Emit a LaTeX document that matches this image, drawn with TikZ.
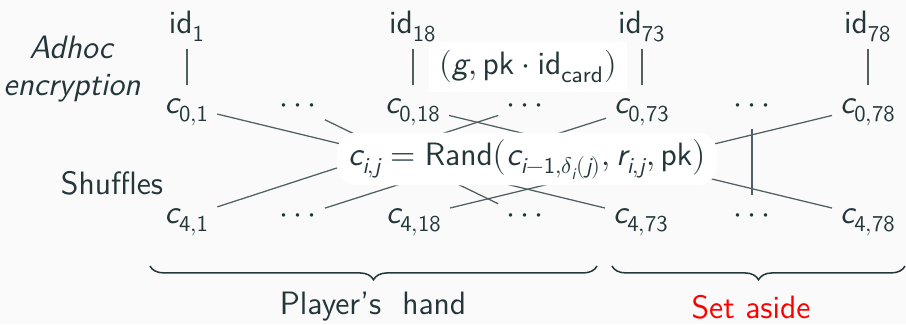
\documentclass[tikz,border=0pt]{standalone}
\usepackage{unicode-math}
\setmathfont{Latin Modern Math}
\setmathfont[range={up/{latin,Latin,num}}]{lmsans10-regular.otf}
\setmathfont[range={it/{latin,Latin}}]{lmsans10-oblique.otf}
\renewcommand{\familydefault}{\sfdefault}
\usepackage{xcolor}
\usetikzlibrary{decorations.pathreplacing,positioning}
\definecolor{mDark}{HTML}{23373B}
\definecolor{mBg}{HTML}{FAFAFA}
\newcommand{\skipdots}{{\cdot}\mkern3mu{\cdot}\mkern3mu{\cdot}}

\begin{document}
\begin{tikzpicture}[
  x=0.014cm,y=-0.014cm,
  font=\fontsize{12.9}{15}\selectfont,
  cell/.style={anchor=base,text=mDark,text height=8pt,text depth=3pt,inner sep=3pt},
  wire/.style={draw=mDark!80,line width=0.5pt},
  panel/.style={fill=white,text=mDark,inner sep=0pt},
  span/.style={draw=mDark,line width=0.6pt,decorate,decoration={brace,mirror,amplitude=5.5pt}},
  tag/.style={text=mDark,align=center}
]
\path[use as bounding box,fill=mBg] (0,0) rectangle (906,324);

% identities
\node[cell] (id1) at (187,33) {$\mathsf{id}_1$};
\node[cell] (id18) at (413,33) {$\mathsf{id}_{18}$};
\node[cell] (id73) at (642,33) {$\mathsf{id}_{73}$};
\node[cell] (id78) at (868,33) {$\mathsf{id}_{78}$};

% first ciphertexts
\node[cell] (c01) at (187,113) {$c_{0,1}$};
\node[cell] (d1t) at (298,113) {$\skipdots$};
\node[cell] (c018) at (413,113) {$c_{0,18}$};
\node[cell] (d2t) at (525,113) {$\skipdots$};
\node[cell] (c073) at (642,113) {$c_{0,73}$};
\node[cell] (d3t) at (752,113) {$\skipdots$};
\node[cell] (c078) at (868,113) {$c_{0,78}$};

% last ciphertexts
\node[cell] (c41) at (187,223) {$c_{4,1}$};
\node[cell] (d1b) at (298,223) {$\skipdots$};
\node[cell] (c418) at (414,223) {$c_{4,18}$};
\node[cell] (d2b) at (525,223) {$\skipdots$};
\node[cell] (c473) at (641,223) {$c_{4,73}$};
\node[cell] (d3b) at (752,223) {$\skipdots$};
\node[cell] (c478) at (868,223) {$c_{4,78}$};

\draw[wire] (id1) -- (c01);
\draw[wire] (id18) -- (c018);
\draw[wire] (id73) -- (c073);
\draw[wire] (id78) -- (c078);

% permutation
\draw[wire] (c01) -- (c473);
\draw[wire] (d1t) -- (d2b);
\draw[wire] (c018) -- (c478);
\draw[wire] (d2t) -- (c41);
\draw[wire] (c073) -- (d1b);
\draw[wire] (d3t) -- (d3b);
\draw[wire] (c078) -- (c418);

\node[panel,minimum width=2.76cm,minimum height=0.71cm] (enc) at (528,67)
  {$(g, \mathsf{pk}\cdot\mathsf{id}_{\mathsf{card}})$};
\node[panel,rounded corners=8pt,minimum width=5.33cm,minimum height=0.74cm] (rand) at (527,159)
  {$c_{i,j} = \mathsf{Rand}\bigl(c_{i-1,\delta_i(j)}, r_{i,j}, \mathsf{pk}\bigr)$};

\node[tag] (adhoc) at (72,69) {\textit{Adhoc}\\\textit{encryption}};
\node[tag] (shuf) at (112,183) {Shuffles};

\coordinate (handL) at (150,266);
\coordinate (handR) at (597,266);
\coordinate (asideL) at (612,266);
\coordinate (asideR) at (905,266);
\draw[span] (handL) -- (handR);
\draw[span] (asideL) -- (asideR);
\node[tag] (hand) at (373,307) {Player's~ hand};
\node[tag,text=red] (aside) at (751,307) {Set aside};
\end{tikzpicture}
\end{document}
